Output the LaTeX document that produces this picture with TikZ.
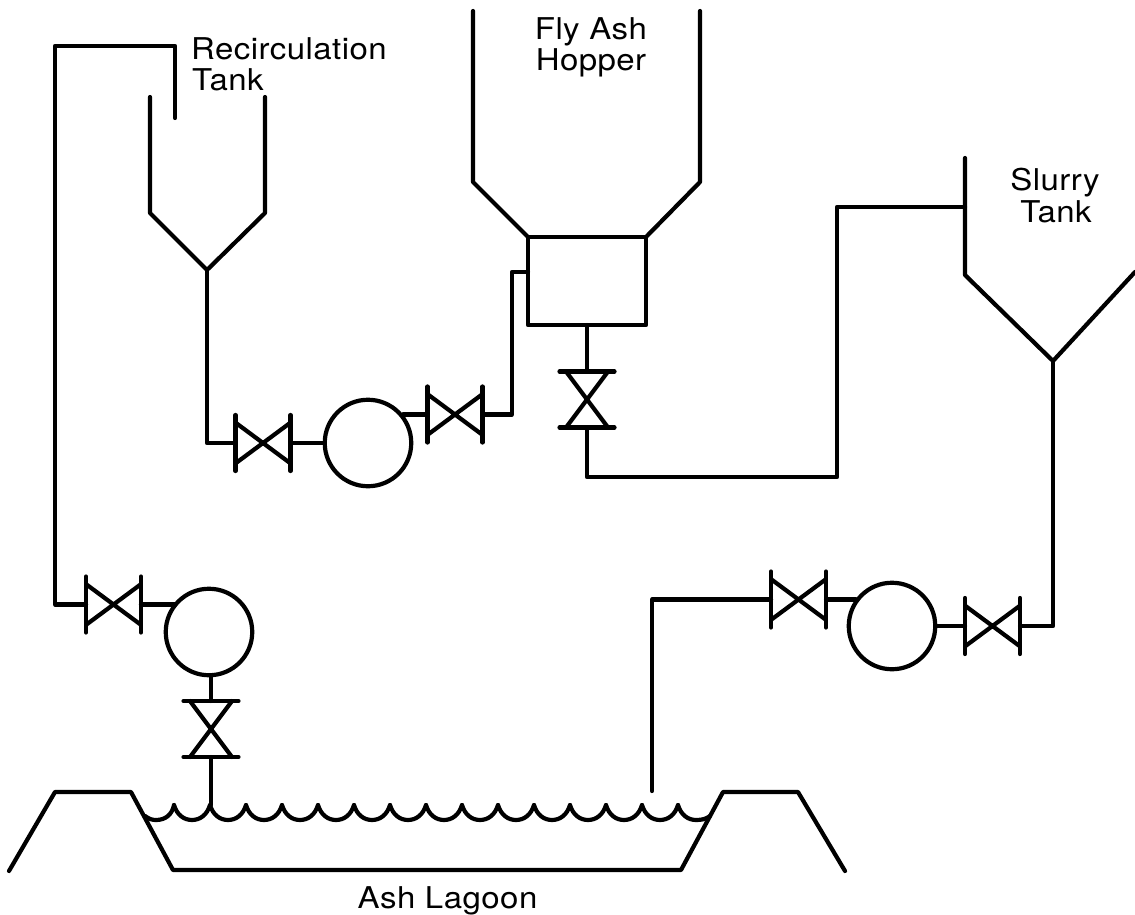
\documentclass[tikz,border=0pt]{standalone}
\usepackage{fontspec}
\setmainfont[FakeStretch=1.1,LetterSpace=1.5]{TeX Gyre Heros}
\tikzset{
  pipe/.style={draw=black,line width=4.2pt,line cap=round,line join=round},
  pump/.style={circle,draw=black,line width=4.2pt,minimum size=86.5pt,inner sep=0pt,outer sep=0pt},
  box/.style={rectangle,draw=black,line width=4.2pt,line join=round,minimum width=118pt,minimum height=88pt,inner sep=0pt,outer sep=0pt},
  lbl/.style={font=\fontsize{30}{32}\selectfont,inner sep=0pt,anchor=base,text=black},
  hvalve/.pic={
    \draw[pipe] (-27.5,-28)--(-27.5,28) (27.5,-28)--(27.5,28);
    \draw[pipe] (-27,-20)--(27,20) (-27,20)--(27,-20);
    \coordinate (-w) at (-27.5,0);
    \coordinate (-e) at (27.5,0);
  },
  vvalve/.pic={
    \draw[pipe] (-27.5,-28)--(27.5,-28) (-27.5,28)--(27.5,28);
    \draw[pipe] (-21,-28)--(21,28) (21,-28)--(-21,28);
    \coordinate (-n) at (0,-28);
    \coordinate (-s) at (0,28);
  }
}
\begin{document}
\begin{tikzpicture}[x=1pt,y=-1pt]
\useasboundingbox (0,0) rectangle (1135,915);
% equipment
\node[box] (hopperbox) at (587,281) {};
\node[pump] (p1) at (368,443) {};
\node[pump] (p2) at (209,632) {};
\node[pump] (p3) at (892,626) {};
\pic (v1) at (263,443) {hvalve};
\pic (v2) at (455,414.5) {hvalve};
\pic (v3) at (113.5,604.5) {hvalve};
\pic (v4) at (798.5,599.5) {hvalve};
\pic (v5) at (992.5,626) {hvalve};
\pic (v6) at (587,399.5) {vvalve};
\pic (v7) at (211,729) {vvalve};
% named points
\coordinate (rt) at (207,270);
\coordinate (st) at (1053,361);
\coordinate (sin) at (965,207);
\coordinate (boxin) at (528,272);
\coordinate (rin) at (175,118);
\coordinate (s1) at (652,791);
\coordinate (s2) at (211,805);
% tanks
\draw[pipe] (150,97)--(150,213)--(rt)--(265,213)--(265,97);
\draw[pipe] (473,11)--(473,182)--(hopperbox.north west);
\draw[pipe] (700,11)--(700,182)--(hopperbox.north east);
\draw[pipe] (hopperbox.north west)--(hopperbox.north east);
\draw[pipe] (965,158)--(965,275)--(st)--(1135,272);
% pipes
\draw[pipe] (rt)--(207,443)--(v1-w);
\draw[pipe] (v1-e)--(p1.west);
\draw[pipe] (403,414.5)--(v2-w);
\draw[pipe] (v2-e)--(512,414.5)--(512,272)--(boxin);
\draw[pipe] (hopperbox.south)--(v6-n);
\draw[pipe] (v6-s)--(587,477)--(837,477)--(837,207)--(sin);
\draw[pipe] (st)--(1053,626)--(v5-e);
\draw[pipe] (v5-w)--(p3.east);
\draw[pipe] (v4-e)--(856,599.5);
\draw[pipe] (v4-w)--(652,599.5)--(s1);
\draw[pipe] (v3-w)--(55,604.5)--(55,46)--(175,46)--(rin);
\draw[pipe] (v3-e)--(175,604.5);
\draw[pipe] (211,675)--(v7-n);
\draw[pipe] (v7-s)--(s2);
% lagoon
\draw[pipe] (9,871)--(55,792)--(131,792)--(173,870)--(681,870)--(723,792)--(798,792)--(845,871);
\draw[pipe] (145,816) .. controls (149,819) and (152,820) .. (156,820)
  .. controls (165,820) and (172,815) .. (174,805);
\foreach \k in {0,...,13} {
  \draw[pipe] ({174+36*\k},805) .. controls ({174+36*\k+3},815) and ({174+36*\k+10},820) .. ({174+36*\k+18},820)
    .. controls ({174+36*\k+26},820) and ({174+36*\k+33},815) .. ({174+36*\k+36},805);
}
\draw[pipe] (678,805) .. controls (681,815) and (688,820) .. (696,820) .. controls (702,820) and (706,819) .. (710,816);
% labels
\node[lbl,anchor=base west] (t1) at (191,59.5) {Recirculation};
\node[lbl,anchor=base west] (t2) at (192,90.5) {Tank};
\node[lbl] (t3) at (591,40) {Fly Ash};
\node[lbl] (t4) at (591,71) {Hopper};
\node[lbl] (t5) at (1055,190) {Slurry};
\node[lbl] (t6) at (1056,222) {Tank};
\node[lbl] (t7) at (447.5,908.3) {Ash Lagoon};
\end{tikzpicture}
\end{document}
